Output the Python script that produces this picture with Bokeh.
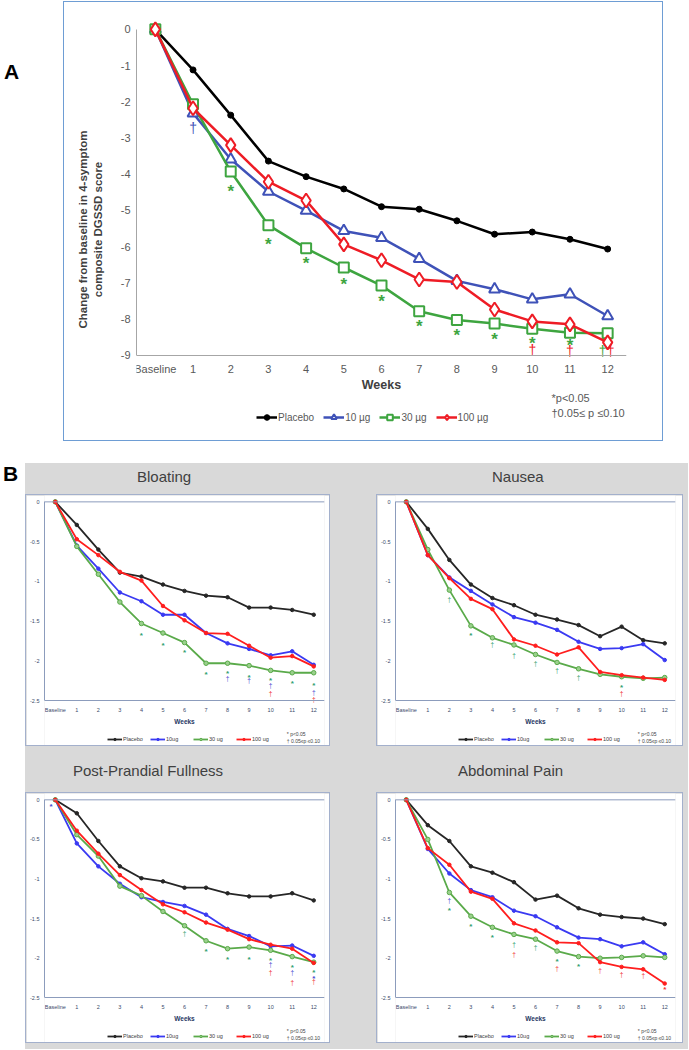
from bokeh.plotting import figure
from bokeh.models import (Range1d, FixedTicker, Legend, LegendItem, Label, Span, Div,
                          Spacer, ColumnDataSource)
from bokeh.layouts import column, row
from bokeh.embed import file_html
from bokeh.resources import INLINE
from bokeh.core.properties import value

# ---------------- data ----------------
weeks = list(range(13))
week_labels = ["Baseline"] + [str(i) for i in range(1, 13)]
series_names_a = ["Placebo", "10 µg", "30 µg", "100 µg"]
series_names_b = ["Placebo", "10ug", "30 ug", "100 ug"]

# Panel A: 4-symptom composite DGSSD score
a_placebo = [0, -1.12, -2.37, -3.64, -4.07, -4.41, -4.90, -4.97, -5.29, -5.66, -5.60, -5.80, -6.07]
a_10ug = [0, -2.32, -3.59, -4.48, -5.01, -5.57, -5.76, -6.34, -6.95, -7.18, -7.46, -7.32, -7.92]
a_30ug = [0, -2.07, -3.93, -5.41, -6.05, -6.58, -7.08, -7.79, -8.03, -8.13, -8.27, -8.38, -8.40]
a_100ug = [0, -2.18, -3.20, -4.21, -4.73, -5.94, -6.38, -6.91, -6.98, -7.74, -8.07, -8.15, -8.65]
a_yticks = [0, -1, -2, -3, -4, -5, -6, -7, -8, -9]
a_sig_x = [1, 2, 3, 4, 5, 6, 7, 8, 9, 10, 11, 10, 11, 11.87, 12.08]
a_sig_y = [-2.73, -4.33, -5.80, -6.33, -6.91, -7.37, -8.08, -8.32, -8.42, -8.54, -8.60,
           -8.86, -8.88, -8.88, -8.88]
a_sig_s = ["†", "*", "*", "*", "*", "*", "*", "*", "*", "*", "*", "†", "†", "†", "†"]
a_sig_c = ["b", "g", "g", "g", "g", "g", "g", "g", "g", "g", "g", "r", "r", "g", "r"]

b_yticks = [0, -0.5, -1, -1.5, -2, -2.5]
b_ylabels = ["0", "-0.5", "-1", "-1.5", "-2", "-2.5"]

# Bloating
bloat_placebo = [0, -0.29, -0.60, -0.89, -0.94, -1.04, -1.12, -1.18, -1.20, -1.33, -1.33, -1.36, -1.42]
bloat_10ug = [0, -0.55, -0.84, -1.14, -1.25, -1.42, -1.42, -1.65, -1.78, -1.85, -1.93, -1.88, -2.05]
bloat_30ug = [0, -0.56, -0.91, -1.26, -1.53, -1.65, -1.77, -2.03, -2.03, -2.06, -2.12, -2.15, -2.15]
bloat_100ug = [0, -0.47, -0.67, -0.88, -0.99, -1.31, -1.49, -1.65, -1.66, -1.81, -1.96, -1.94, -2.07]
bloat_sig_x = [4, 5, 6, 7, 8, 9, 10, 11, 12, 8, 9, 10, 12, 10, 12]
bloat_sig_y = [-1.65, -1.78, -1.87, -2.15, -2.13, -2.18, -2.22, -2.26, -2.29,
               -2.22, -2.25, -2.31, -2.40, -2.41, -2.49]
bloat_sig_s = ["*"] * 9 + ["†"] * 6
bloat_sig_c = ["g"] * 9 + ["b"] * 4 + ["r"] * 2

# Nausea
naus_placebo = [0, -0.34, -0.73, -1.04, -1.21, -1.30, -1.42, -1.48, -1.55, -1.69, -1.57, -1.74, -1.78]
naus_10ug = [0, -0.67, -0.95, -1.12, -1.29, -1.45, -1.52, -1.61, -1.76, -1.85, -1.84, -1.79, -1.99]
naus_30ug = [0, -0.60, -1.11, -1.56, -1.71, -1.80, -1.92, -2.02, -2.10, -2.17, -2.20, -2.22, -2.21]
naus_100ug = [0, -0.67, -0.96, -1.22, -1.35, -1.73, -1.81, -1.92, -1.83, -2.14, -2.18, -2.21, -2.24]
naus_sig_x = [2, 4, 5, 6, 7, 8, 3, 10, 10]
naus_sig_y = [-1.23, -1.80, -1.93, -2.03, -2.12, -2.21, -1.66, -2.31, -2.41]
naus_sig_s = ["†"] * 6 + ["*", "*", "†"]
naus_sig_c = ["g"] * 8 + ["r"]

# Post-Prandial Fullness
ppf_placebo = [0, -0.17, -0.52, -0.84, -0.99, -1.03, -1.11, -1.11, -1.18, -1.22, -1.22, -1.18, -1.27]
ppf_10ug = [0, -0.55, -0.84, -1.06, -1.23, -1.29, -1.34, -1.45, -1.63, -1.72, -1.85, -1.84, -1.97]
ppf_30ug = [0, -0.44, -0.71, -1.09, -1.21, -1.41, -1.59, -1.78, -1.88, -1.86, -1.90, -1.98, -2.05]
ppf_100ug = [0, -0.39, -0.68, -0.95, -1.14, -1.32, -1.42, -1.55, -1.64, -1.76, -1.83, -1.88, -2.06]
ppf_sig_x = [-0.2, 6, 7, 8, 9, 10, 11, 12, 10, 11, 12, 10, 11, 12]
ppf_sig_y = [-0.06, -1.69, -1.89, -1.99, -1.99, -2.00, -2.09, -2.15, -2.08, -2.18, -2.23,
             -2.18, -2.31, -2.30]
ppf_sig_s = ["*", "†", "*", "*", "*", "*", "*", "*", "†", "†", "*", "†", "†", "†"]
ppf_sig_c = ["b", "g", "g", "g", "g", "g", "g", "g", "b", "b", "b", "r", "r", "r"]

# Abdominal Pain
ap_placebo = [0, -0.32, -0.52, -0.84, -0.92, -1.04, -1.26, -1.21, -1.37, -1.45, -1.48, -1.50, -1.57]
ap_10ug = [0, -0.62, -0.93, -1.14, -1.23, -1.40, -1.47, -1.61, -1.74, -1.76, -1.85, -1.80, -1.95]
ap_30ug = [0, -0.50, -1.17, -1.47, -1.61, -1.70, -1.76, -1.91, -1.98, -2.00, -1.99, -1.97, -1.99]
ap_100ug = [0, -0.61, -0.82, -1.16, -1.25, -1.56, -1.65, -1.80, -1.81, -2.05, -2.11, -2.14, -2.32]
ap_sig_x = [2, 2, 3, 4, 5, 6, 5, 7, 8, 7, 9, 10, 11, 12]
ap_sig_y = [-1.27, -1.37, -1.57, -1.71, -1.83, -1.87, -1.95, -2.02, -2.08, -2.13, -2.15,
            -2.20, -2.22, -2.37]
ap_sig_s = ["†", "*", "*", "*", "†", "†", "†", "*", "*", "†", "†", "†", "†", "*"]
ap_sig_c = ["b", "g", "g", "g", "g", "g", "r", "g", "g", "r", "r", "r", "r", "r"]

FONT = "Liberation Sans"


def draw_sig(p, xs, ys, syms, cols, palette, fs, star_fs, star_off, bold_star):
    for sym in ("*", "†"):
        idx = [i for i, s in enumerate(syms) if s == sym]
        if not idx:
            continue
        src = ColumnDataSource(dict(x=[xs[i] for i in idx], y=[ys[i] for i in idx],
                                    t=[syms[i] for i in idx],
                                    col=[palette[cols[i]] for i in idx]))
        p.text(x="x", y="y", text="t", text_color="col", source=src,
               text_font=value(FONT),
               text_font_size=star_fs if sym == "*" else fs,
               text_font_style="bold" if (sym == "*" and bold_star) else "normal",
               text_align="center", text_baseline="middle",
               y_offset=star_off if sym == "*" else 0)


# ---------------- Panel A ----------------
A_COL = {"k": "#000000", "b": "#3F52B8", "g": "#3EA540", "r": "#EE1C25"}
pa = figure(width=600, height=440, min_border_left=72, min_border_right=38,
            min_border_top=16, min_border_bottom=2,
            x_range=Range1d(-0.5, 12.5), y_range=Range1d(-11.36, 0.3),
            toolbar_location=None, output_backend="svg",
            background_fill_color="white", border_fill_color="white",
            outline_line_color=None,
            styles={"border": "1px solid #6E9DD4"})
pa.grid.visible = False

l0 = pa.line(weeks, a_placebo, line_color=A_COL["k"], line_width=2.5)
s0 = pa.scatter(weeks, a_placebo, marker="circle", size=6, fill_color=A_COL["k"], line_color=A_COL["k"])
l1 = pa.line(weeks, a_10ug, line_color=A_COL["b"], line_width=2.5)
s1 = pa.scatter(weeks, a_10ug, marker="triangle", size=11, fill_color="white", line_color=A_COL["b"], line_width=2)
l2 = pa.line(weeks, a_30ug, line_color=A_COL["g"], line_width=2.5)
s2 = pa.scatter(weeks, a_30ug, marker="square", size=10, fill_color="white", line_color=A_COL["g"], line_width=2)
l3 = pa.line(weeks, a_100ug, line_color=A_COL["r"], line_width=2.5)
s3 = pa.scatter(weeks, a_100ug, marker="diamond", size=14, fill_color="white", line_color=A_COL["r"], line_width=2)

draw_sig(pa, a_sig_x, a_sig_y, a_sig_s, a_sig_c, A_COL, "14px", "17px", 5, True)

pa.xaxis.ticker = FixedTicker(ticks=weeks)
pa.xaxis.major_label_overrides = {w: lab for w, lab in zip(weeks, week_labels)}
pa.xaxis.fixed_location = -9
pa.yaxis.ticker = FixedTicker(ticks=a_yticks)
pa.yaxis.major_label_overrides = {t: str(t) for t in a_yticks}
pa.yaxis.bounds = (-9, 0)
for ax in (pa.xaxis[0], pa.yaxis[0]):
    ax.axis_line_color = "#A6A6A6"
    ax.axis_line_width = 1
    ax.major_tick_line_color = None
    ax.minor_tick_line_color = None
    ax.major_tick_out = 0
    ax.major_tick_in = 0
    ax.major_label_text_font = FONT
    ax.major_label_text_font_size = "11px"
    ax.major_label_text_color = "#595959"
    ax.axis_label_text_font = FONT
    ax.axis_label_text_font_style = "bold"
    ax.axis_label_text_color = "#404040"
pa.xaxis.major_label_standoff = 8
pa.yaxis.major_label_standoff = 6
pa.xaxis.axis_label = "Weeks"
pa.xaxis.axis_label_text_font_size = "12.5px"
pa.xaxis.axis_label_standoff = -1
pa.yaxis.axis_label = "Change from baseline in 4-symptom\ncomposite DGSSD score"
pa.yaxis.axis_label_text_font_size = "11.5px"
pa.yaxis.axis_label_standoff = 14

leg_a = Legend(items=[LegendItem(label=n, renderers=r) for n, r in
                      zip(series_names_a, [[l0, s0], [l1, s1], [l2, s2], [l3, s3]])],
               orientation="horizontal", location=(120, 16),
               label_text_font=FONT, label_text_font_size="10px", label_text_color="#595959",
               glyph_width=21, glyph_height=14, label_height=14, label_standoff=1,
               spacing=9, padding=0, margin=0, border_line_color=None,
               background_fill_alpha=0)
pa.add_layout(leg_a)

pa.add_layout(Label(x=10.51, y=-10.19, text="*p<0.05", text_font=FONT, text_font_size="11px",
                    text_color="#595959", text_baseline="middle"))
pa.add_layout(Label(x=10.51, y=-10.60, text="†0.05≤ p ≤0.10", text_font=FONT,
                    text_font_size="11px", text_color="#595959", text_baseline="middle"))

# ---------------- Panel B ----------------
B_COL = {"k": "#262626", "b": "#3A3AF2", "g": "#5AAA4A", "r": "#FF1E1E"}
SIG_COL = {"g": "#2F9E6E", "b": "#4848D0", "r": "#F03030"}
AXC = "#8C9CBC"


def small_chart(plc, d10, d30, d100, sx, sy, ss, sc, w, h, right_border):
    p = figure(width=w, height=h, min_border_left=18,
               min_border_right=right_border, min_border_top=0,
               min_border_bottom=0,
               x_range=Range1d(-0.5, 12.5), y_range=Range1d(-3.09, 0.08),
               toolbar_location=None, output_backend="svg",
               background_fill_color="white", border_fill_color="white",
               outline_line_color=None,
               styles={"border": "1px solid #A3B0CC"})
    p.grid.visible = False
    p.add_layout(Span(location=0, dimension="width", line_color=AXC, line_width=1))
    rs = []
    for data, key in ((plc, "k"), (d10, "b"), (d30, "g"), (d100, "r")):
        ln = p.line(weeks, data, line_color=B_COL[key], line_width=1.8)
        if key == "g":
            sc_r = p.scatter(weeks, data, marker="circle", size=4.5, fill_color="#9AD08C",
                             line_color=B_COL[key], line_width=1)
        else:
            sc_r = p.scatter(weeks, data, marker="circle", size=3.5, fill_color=B_COL[key],
                             line_color=B_COL[key])
        rs.append([ln, sc_r])
    draw_sig(p, sx, sy, ss, sc, SIG_COL, "6.5px", "8px", 2, True)
    p.xaxis.ticker = FixedTicker(ticks=weeks)
    p.xaxis.major_label_overrides = {w_: lab for w_, lab in zip(weeks, week_labels)}
    p.xaxis.fixed_location = -2.5
    p.yaxis.ticker = FixedTicker(ticks=b_yticks)
    p.yaxis.major_label_overrides = {t: l for t, l in zip(b_yticks, b_ylabels)}
    p.yaxis.bounds = (-2.5, 0)
    for ax in (p.xaxis[0], p.yaxis[0]):
        ax.axis_line_color = AXC
        ax.axis_line_width = 1
        ax.major_tick_line_color = None
        ax.minor_tick_line_color = None
        ax.major_tick_out = 0
        ax.major_tick_in = 0
        ax.major_label_text_font = FONT
        ax.major_label_text_font_size = "5.5px"
        ax.major_label_text_color = "#3B4A6B"
    p.xaxis.major_label_standoff = 6
    p.yaxis.major_label_standoff = 5
    p.xaxis.axis_label = "Weeks"
    p.xaxis.axis_label_text_font = FONT
    p.xaxis.axis_label_text_font_size = "6.5px"
    p.xaxis.axis_label_text_font_style = "bold"
    p.xaxis.axis_label_text_color = "#1F3864"
    p.xaxis.axis_label_standoff = 2
    leg = Legend(items=[LegendItem(label=n, renderers=r) for n, r in zip(series_names_b, rs)],
                 orientation="horizontal", location=(63, 5),
                 label_text_font=FONT, label_text_font_size="5.5px", label_text_color="#404040",
                 glyph_width=15, glyph_height=6, label_height=6, label_standoff=1,
                 spacing=7, padding=0, margin=0, border_line_color=None,
                 background_fill_alpha=0)
    p.add_layout(leg)
    p.add_layout(Label(x=10.75, y=-2.925, text="* p<0.05", text_font=FONT, text_font_size="5px",
                       text_color="#404040", text_baseline="middle"))
    p.add_layout(Label(x=10.75, y=-3.005, text="† 0.05≤p ≤0.10", text_font=FONT,
                       text_font_size="5px", text_color="#404040", text_baseline="middle"))
    return p


p_bloat = small_chart(bloat_placebo, bloat_10ug, bloat_30ug, bloat_100ug,
                      bloat_sig_x, bloat_sig_y, bloat_sig_s, bloat_sig_c, 305, 252, 7)
p_naus = small_chart(naus_placebo, naus_10ug, naus_30ug, naus_100ug,
                     naus_sig_x, naus_sig_y, naus_sig_s, naus_sig_c, 307, 252, 9)
p_ppf = small_chart(ppf_placebo, ppf_10ug, ppf_30ug, ppf_100ug,
                    ppf_sig_x, ppf_sig_y, ppf_sig_s, ppf_sig_c, 305, 251, 7)
p_ap = small_chart(ap_placebo, ap_10ug, ap_30ug, ap_100ug,
                   ap_sig_x, ap_sig_y, ap_sig_s, ap_sig_c, 307, 251, 9)


def title_div(text, w, h, left, top):
    html = ("<div style=\"margin-left:%dpx;margin-top:%dpx;font-family:'Liberation Sans';"
            "font-size:15px;line-height:17px;color:#404040;white-space:nowrap\">%s</div>"
            % (left, top, text))
    return Div(text=html, width=w, height=h, margin=0)


def letter_div(text, w, h, left, top):
    html = ("<div style=\"margin-left:%dpx;margin-top:%dpx;font-family:'Liberation Sans';"
            "font-size:21px;font-weight:bold;line-height:22px;color:#000\">%s</div>"
            % (left, top, text))
    return Div(text=html, width=w, height=h, margin=0)


grey = column(
    row(title_div("Bloating", 307, 31, 112, 5), Spacer(width=46, height=31),
        title_div("Nausea", 309, 31, 114, 5), Spacer(width=1, height=31)),
    row(p_bloat, Spacer(width=46, height=254), p_naus, Spacer(width=1, height=254)),
    row(title_div("Post-Prandial Fullness", 307, 44, 48, 14), Spacer(width=46, height=44),
        title_div("Abdominal Pain", 309, 44, 80, 14), Spacer(width=1, height=44)),
    row(p_ppf, Spacer(width=46, height=253), p_ap, Spacer(width=1, height=253)),
    Spacer(width=663, height=4),
    styles={"background-color": "#D9D9D9"},
)

root = column(
    Spacer(width=10, height=1),
    row(letter_div("A", 63, 442, 4, 60), pa),
    Spacer(width=657, height=20),
    row(letter_div("B", 25, 586, 3, 0), grey),
)

open("out.html", "w").write(file_html(root, INLINE))
